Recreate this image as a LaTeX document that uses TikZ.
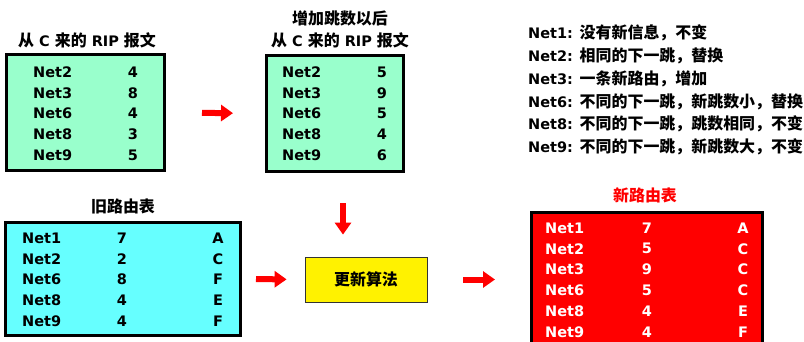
\documentclass[tikz,border=0pt]{standalone}
\usepackage{fontspec}
\setmainfont{DejaVu Sans}
\newfontfamily\cjk{Noto Sans CJK SC}[Scale=1.1]
\newcommand\zh[1]{{\cjk #1}}
\usetikzlibrary{arrows.meta,positioning}
\definecolor{ripgreen}{RGB}{153,255,204}
\definecolor{oldcyan}{RGB}{102,255,255}
\definecolor{newred}{RGB}{255,0,0}
\tikzset{
  tablebox/.style={draw=black,line width=3pt,inner sep=0pt},
  cell/.style={font=\fontsize{14.5}{16}\selectfont\bfseries,inner sep=0pt},
  ttl/.style={font=\fontsize{14.5}{22}\selectfont\bfseries,inner sep=0pt,align=center},
  fatarrow/.style={draw=newred,line width=6pt,-{Triangle[length=12pt,width=16pt]}}
}

\begin{document}
\begin{tikzpicture}[x=1pt,y=-1pt]
\useasboundingbox (0,0) rectangle (804,341);
\clip (0,0) rectangle (804,341);
% RIP message from C
\node[ttl] (rip-t) at (87,40){\zh{从} C \zh{来的} RIP \zh{报文}};
\node[tablebox,fill=ripgreen,minimum width=158pt,minimum height=116pt] (rip) at (85.5,112.5){};
\foreach \n/\h [count=\i from 0] in {2/4,3/8,6/4,8/3,9/5}{
  \node[cell,anchor=west] (rip-n\i) at (33,{72+20.75*\i}){Net\n};
  \node[cell] (rip-h\i) at (133,{72+20.75*\i}){\h};}
% after adding one hop
\node[ttl] (rip2-t) at (340,29){\zh{增加跳数以后}\\\zh{从} C \zh{来的} RIP \zh{报文}};
\node[tablebox,fill=ripgreen,minimum width=137pt,minimum height=116pt] (rip2) at (335,113.5){};
\foreach \n/\h [count=\i from 0] in {2/5,3/9,6/5,8/4,9/6}{
  \node[cell,anchor=west] (rip2-n\i) at (282,{72+20.75*\i}){Net\n};
  \node[cell] (rip2-h\i) at (382,{72+20.75*\i}){\h};}
% old routing table
\node[ttl] (old-t) at (123,206){\zh{旧路由表}};
\node[tablebox,fill=oldcyan,minimum width=235pt,minimum height=113pt] (old) at (123,279){};
\foreach \n/\h/\r [count=\i from 0] in {1/7/A,2/2/C,6/8/F,8/4/E,9/4/F}{
  \node[cell,anchor=west] (old-n\i) at (22,{238+20.75*\i}){Net\n};
  \node[cell] (old-h\i) at (122,{238+20.75*\i}){\h};
  \node[cell] (old-r\i) at (218,{238+20.75*\i}){\r};}
% update algorithm
\node[draw=black!80,fill=yellow,line width=0.8pt,minimum width=122pt,minimum height=45pt,
  font=\fontsize{14.5}{16}\selectfont\bfseries] (algo) at (366,279.5){\zh{更新算法}};
% new routing table
\node[ttl,text=newred] (new-t) at (645,195){\zh{新路由表}};
\node[tablebox,fill=newred,minimum width=231pt,minimum height=140pt] (new) at (647,282){};
\foreach \n/\h/\r [count=\i from 0] in {1/7/A,2/5/C,3/9/C,6/5/C,8/4/E,9/4/F}{
  \node[cell,text=white,anchor=west] (new-n\i) at (545,{228+20.8*\i}){Net\n};
  \node[cell,text=white] (new-h\i) at (647,{228+20.8*\i}){\h};
  \node[cell,text=white] (new-r\i) at (743,{228+20.8*\i}){\r};}
% notes
\foreach \n/\t [count=\i from 0] in {1/没有新信息，不变,2/相同的下一跳，替换,3/一条新路由，增加,
  6/不同的下一跳，新跳数小，替换,8/不同的下一跳，跳数相同，不变,9/不同的下一跳，新跳数大，不变}{
  \node[cell,anchor=west] (note\i) at (528,{33+22.8*\i}){Net\n: \zh{\t}};}
% arrows
\draw[fatarrow,shorten <=36pt,shorten >=32pt] (rip.east) -- (rip2.west);
\draw[fatarrow,shorten <=30pt,shorten >=22pt] ([xshift=8pt]rip2.south) -- ([xshift=8pt]rip2.south |- algo.north);
\draw[fatarrow,shorten <=14pt,shorten >=18pt] (old.east) -- (algo.west);
\draw[fatarrow,shorten <=36pt,shorten >=35pt] (algo.east) -- (algo.east -| new.west);
\end{tikzpicture}
\end{document}
